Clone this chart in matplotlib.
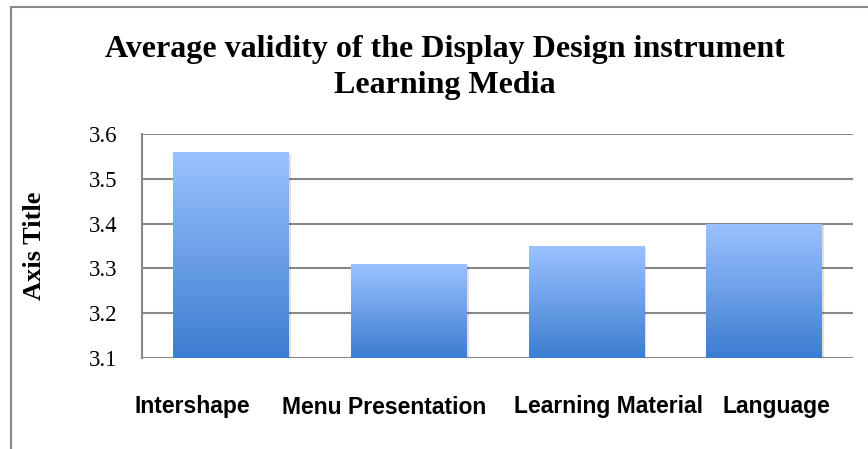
import numpy as np
import matplotlib.pyplot as plt
import matplotlib.transforms as mtransforms
from matplotlib.colors import LinearSegmentedColormap
from matplotlib.patches import Rectangle

categories = ['Intershape', 'Menu Presentation', 'Learning Material', 'Language']
values = [3.56, 3.31, 3.35, 3.40]
yticks = [3.1, 3.2, 3.3, 3.4, 3.5, 3.6]
# horizontal nudge of each category label (points), Excel-style spacing
label_shift = [-28, -18, 16, 9]

fig = plt.figure(figsize=(8.68, 4.49), dpi=100)
ax = fig.add_axes([142/868, 1-358/449, 711/868, 224/449])

grad = LinearSegmentedColormap.from_list('g', ['#3c7dd0', '#9bc2ff'])
g = np.linspace(0, 1, 256).reshape(-1, 1)

x = np.arange(len(categories))
bars = ax.bar(x, values, width=0.65, color='none', zorder=3)
for b in bars:
    x0, w, h = b.get_x(), b.get_width(), b.get_height()
    # soft shadow
    sh = Rectangle((x0 + 0.012, 3.1), w, h - 3.1 - 0.004, facecolor='#000000',
                   alpha=0.12, edgecolor='none', zorder=2)
    ax.add_patch(sh)
    im = ax.imshow(g, cmap=grad, origin='lower', aspect='auto',
                   extent=[x0, x0 + w, 3.1, h], zorder=3)
    im.set_clip_path(b)

ax.set_xlim(-0.5, len(categories) - 0.5)
ax.set_ylim(3.1, 3.6)
ax.set_yticks(yticks)
ax.set_yticklabels([f'{t:.1f}' for t in yticks], family='Liberation Serif', fontsize=16.5)
ax.set_xticks(x)
ax.set_xticklabels([])
for xi, name, dx in zip(x, categories, label_shift):
    tr = ax.get_xaxis_transform() + mtransforms.ScaledTranslation(dx / 72, -27 / 72, fig.dpi_scale_trans)
    ax.text(xi, 0, name, transform=tr, ha='center', va='top',
            family='Liberation Sans', fontweight='bold', fontsize=16.5)
ax.tick_params(length=0)
ax.tick_params(axis='y', pad=18)
ax.yaxis.grid(True, color='#888888', linewidth=1.5, zorder=1)
ax.set_axisbelow(True)
for s in ['top', 'right', 'bottom']:
    ax.spines[s].set_visible(False)
ax.spines['left'].set_color('#888888')
ax.spines['left'].set_linewidth(1.5)

ax.set_ylabel('Axis Title', family='Liberation Serif', fontweight='bold', fontsize=19)
ax.yaxis.set_label_coords(-96/711, 0.5)

fig.text(445/868, 1-49/449, 'Average validity of the Display Design instrument',
         family='Liberation Serif', fontweight='bold', fontsize=23, ha='center', va='center')
fig.text(445/868, 1-85/449, 'Learning Media',
         family='Liberation Serif', fontweight='bold', fontsize=23, ha='center', va='center')

# chart frame (clipped on right and bottom)
fig.patches.append(Rectangle((11/868, -0.1), 1.2, 1 - 7/449 + 0.1, transform=fig.transFigure,
                             facecolor='none', edgecolor='#888888', linewidth=1.5))

fig.savefig('out.png', dpi=100)
